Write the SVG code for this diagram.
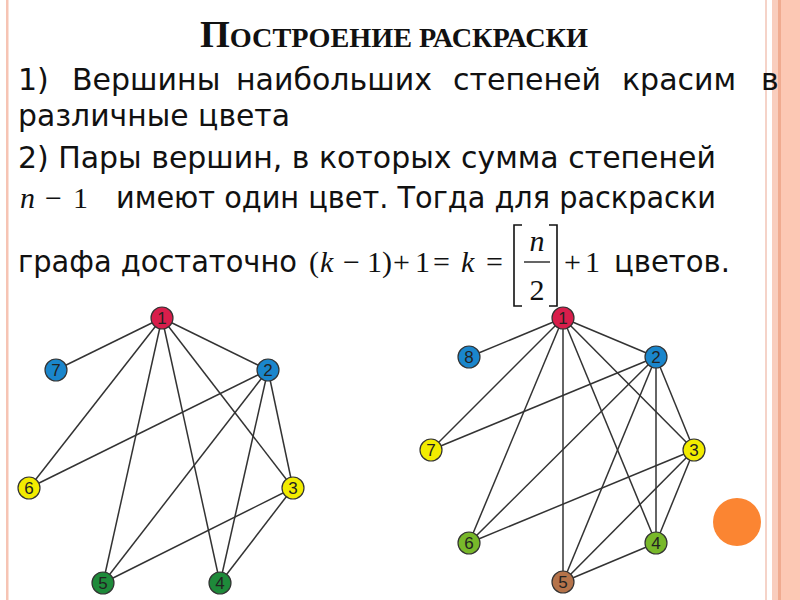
<svg xmlns="http://www.w3.org/2000/svg" width="800" height="600" viewBox="0 0 800 600">
<style>
.t{font-family:"DejaVu Sans","Liberation Sans",sans-serif;font-size:30px;fill:#111}
.m{font-family:"Liberation Serif","Times New Roman",serif;font-size:30px;fill:#111}
.i{font-style:italic}
.e{stroke:#333;stroke-width:1.5;fill:none}
.n circle{stroke:#333;stroke-width:1.2}
.n text{font-family:"Liberation Sans",Arial,sans-serif;font-size:17px;fill:#222;text-anchor:middle}
.br{stroke:#111;stroke-width:1.6;fill:none}
</style>
<rect width="800" height="600" fill="#fff"/>
<g id="decor">
<rect x="6" y="0" width="2.5" height="600" fill="#f6c4b4"/>
<rect x="765" y="0" width="2" height="600" fill="#f5d3c8"/>
<rect x="772" y="0" width="6" height="600" fill="#f9cdbd"/>
<rect x="778" y="0" width="3" height="600" fill="#f0ab90"/>
<rect x="781" y="0" width="19" height="600" fill="#fcc8b4"/>
<circle cx="737" cy="522" r="24" fill="#fb8532"/>
</g>
<g id="title">
<text x="200" y="47" textLength="388" lengthAdjust="spacingAndGlyphs" style="font-family:'Liberation Serif','Times New Roman',serif;font-weight:bold;fill:#111"><tspan font-size="38">П</tspan><tspan font-size="28">ОСТРОЕНИЕ РАСКРАСКИ</tspan></text>
</g>
<g id="text">
<text class="t" y="90"><tspan x="18">1)</tspan><tspan x="72">Вершины</tspan><tspan x="236">наибольших</tspan><tspan x="453">степеней</tspan><tspan x="622">красим</tspan><tspan x="761">в</tspan></text>
<text class="t" x="18" y="126" textLength="272" lengthAdjust="spacingAndGlyphs">различные цвета</text>
<text class="t" x="18" y="168" textLength="698" lengthAdjust="spacingAndGlyphs">2) Пары вершин, в которых сумма степеней</text>
<text class="m" y="208" font-size="32"><tspan x="20" class="i">n</tspan><tspan x="45">−</tspan><tspan x="73">1</tspan></text>
<text class="t" x="116" y="208" textLength="600" lengthAdjust="spacingAndGlyphs">имеют один цвет. Тогда для раскраски</text>
<text class="t" x="18" y="272" textLength="279" lengthAdjust="spacingAndGlyphs">графа достаточно</text>
<text class="m" y="272" font-size="29"><tspan x="309">(</tspan><tspan x="320" class="i">k</tspan><tspan x="343">−</tspan><tspan x="367">1</tspan><tspan x="382">)</tspan><tspan x="393">+</tspan><tspan x="415">1</tspan><tspan x="433">=</tspan><tspan x="461" class="i">k</tspan><tspan x="486">=</tspan></text>
<path class="br" d="M522 225 H514 V306 H522 M549 225 H557 V306 H549"/>
<text class="m i" x="537" y="251" text-anchor="middle">n</text>
<line x1="524" y1="262" x2="550" y2="262" stroke="#111" stroke-width="1.3"/>
<text class="m" x="537" y="300" text-anchor="middle">2</text>
<text class="m" y="272"><tspan x="564">+</tspan><tspan x="585">1</tspan></text>
<text class="t" x="614" y="272" textLength="116" lengthAdjust="spacingAndGlyphs">цветов.</text>
</g>
<g id="connectors">
<line class="e" x1="162" y1="318" x2="56" y2="370"/>
<line class="e" x1="162" y1="318" x2="29" y2="488"/>
<line class="e" x1="162" y1="318" x2="103" y2="583"/>
<line class="e" x1="162" y1="318" x2="220" y2="583"/>
<line class="e" x1="162" y1="318" x2="293" y2="488"/>
<line class="e" x1="162" y1="318" x2="268" y2="370"/>
<line class="e" x1="268" y1="370" x2="29" y2="488"/>
<line class="e" x1="268" y1="370" x2="103" y2="583"/>
<line class="e" x1="268" y1="370" x2="220" y2="583"/>
<line class="e" x1="268" y1="370" x2="293" y2="488"/>
<line class="e" x1="293" y1="488" x2="103" y2="583"/>
<line class="e" x1="293" y1="488" x2="220" y2="583"/>
<line class="e" x1="563" y1="318" x2="469" y2="357"/>
<line class="e" x1="563" y1="318" x2="431" y2="450"/>
<line class="e" x1="563" y1="318" x2="469" y2="543"/>
<line class="e" x1="563" y1="318" x2="563" y2="582"/>
<line class="e" x1="563" y1="318" x2="656" y2="543"/>
<line class="e" x1="563" y1="318" x2="694" y2="450"/>
<line class="e" x1="563" y1="318" x2="656" y2="357"/>
<line class="e" x1="656" y1="357" x2="431" y2="450"/>
<line class="e" x1="656" y1="357" x2="469" y2="543"/>
<line class="e" x1="656" y1="357" x2="563" y2="582"/>
<line class="e" x1="656" y1="357" x2="656" y2="543"/>
<line class="e" x1="656" y1="357" x2="694" y2="450"/>
<line class="e" x1="694" y1="450" x2="469" y2="543"/>
<line class="e" x1="694" y1="450" x2="563" y2="582"/>
<line class="e" x1="694" y1="450" x2="656" y2="543"/>
<line class="e" x1="656" y1="543" x2="563" y2="582"/>
</g>
<g id="a1" class="n"><circle cx="162" cy="318" r="11" fill="#d81e4b"/><text x="162" y="324">1</text></g>
<g id="a2" class="n"><circle cx="268" cy="370" r="11" fill="#1a86cc"/><text x="268" y="376">2</text></g>
<g id="a3" class="n"><circle cx="293" cy="488" r="11" fill="#f2ec00"/><text x="293" y="494">3</text></g>
<g id="a4" class="n"><circle cx="220" cy="583" r="11" fill="#1e8a3a"/><text x="220" y="589">4</text></g>
<g id="a5" class="n"><circle cx="103" cy="583" r="11" fill="#1e8a3a"/><text x="103" y="589">5</text></g>
<g id="a6" class="n"><circle cx="29" cy="488" r="11" fill="#f2ec00"/><text x="29" y="494">6</text></g>
<g id="a7" class="n"><circle cx="56" cy="370" r="11" fill="#1a86cc"/><text x="56" y="376">7</text></g>
<g id="b1" class="n"><circle cx="563" cy="318" r="11" fill="#d81e4b"/><text x="563" y="324">1</text></g>
<g id="b2" class="n"><circle cx="656" cy="357" r="11" fill="#1a86cc"/><text x="656" y="363">2</text></g>
<g id="b3" class="n"><circle cx="694" cy="450" r="11" fill="#f2ec00"/><text x="694" y="456">3</text></g>
<g id="b4" class="n"><circle cx="656" cy="543" r="11" fill="#78b82a"/><text x="656" y="549">4</text></g>
<g id="b5" class="n"><circle cx="563" cy="582" r="11" fill="#b5734a"/><text x="563" y="588">5</text></g>
<g id="b6" class="n"><circle cx="469" cy="543" r="11" fill="#78b82a"/><text x="469" y="549">6</text></g>
<g id="b7" class="n"><circle cx="431" cy="450" r="11" fill="#f2ec00"/><text x="431" y="456">7</text></g>
<g id="b8" class="n"><circle cx="469" cy="357" r="11" fill="#1a86cc"/><text x="469" y="363">8</text></g>
</svg>
